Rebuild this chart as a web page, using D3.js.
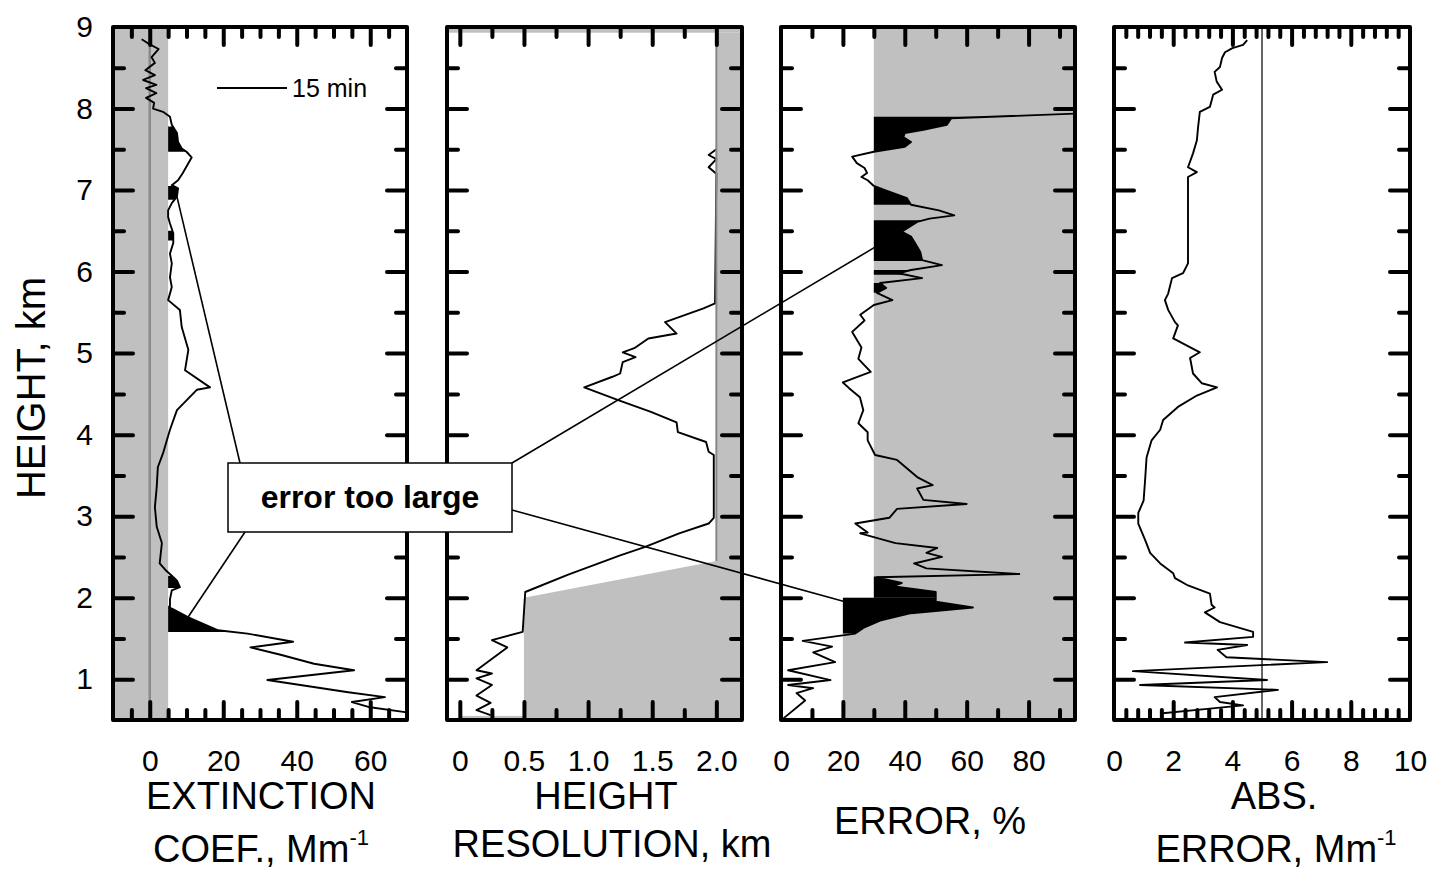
<!DOCTYPE html>
<html>
<head>
<meta charset="utf-8">
<script src="https://cdn.jsdelivr.net/npm/d3@7"></script>
<style>
body { margin: 0; background: #fff; }
text { font-family: "Liberation Sans", Arial, sans-serif; fill: #000; }
</style>
</head>
<body>
<script>
var W = 1432, H = 869;

// height axis (shared by all panels), km
var heightMajor = [1, 2, 3, 4, 5, 6, 7, 8];
var heightMinor = [1.5, 2.5, 3.5, 4.5, 5.5, 6.5, 7.5, 8.5];
var heightLabels = [1, 2, 3, 4, 5, 6, 7, 8, 9];

// panel 1: extinction coefficient, Mm-1
var extH = [8.85, 8.80, 8.73, 8.63, 8.56, 8.47, 8.41, 8.35, 8.29, 8.25, 8.19, 8.13, 8.07, 8.00, 7.96, 7.90,
  7.80, 7.70, 7.59, 7.51, 7.47, 7.40, 7.33, 7.21, 7.12, 7.06, 7.02, 6.92, 6.84, 6.75, 6.67, 6.59, 6.47, 6.35,
  6.22, 6.10, 5.93, 5.81, 5.65, 5.53, 5.32, 5.04, 4.79, 4.58, 4.55, 4.30, 4.06, 3.77, 3.60, 3.36, 3.11, 2.87,
  2.67, 2.42, 2.33, 2.27, 2.21, 2.13, 2.09, 1.98, 1.88, 1.76, 1.60, 1.56, 1.46, 1.39, 1.30, 1.19, 1.11, 0.99,
  0.93, 0.84, 0.78, 0.72, 0.66, 0.60, 0.55];
var extV = [-2.2, -0.5, 2.4, 0.5, 1.4, -1.2, 1.4, -1.8, 1.8, -1.0, 1.8, -1.0, 1.2, 0.9, 3.6, 5.5,
  6, 7.4, 7.7, 8.7, 10, 11.4, 10.5, 9, 7.7, 6, 7.7, 7.4, 6, 5, 5, 5.5, 6.4, 6.4,
  5.5, 6, 5.5, 6, 5, 8.2, 8.7, 10.5, 9.6, 16.4, 12.8, 7.4, 5.5, 3.6, 2.2, 1.9, 1.4, 1.9,
  3.3, 2.7, 4.5, 6, 7.4, 8.2, 6, 5.5, 5.5, 10.5, 18.6, 26.6, 39, 27.4, 35.6, 44.7, 55.6, 32,
  41, 54, 64, 55, 59.5, 69, 75];
var extLimit = 5;
var extBlackLo = [7.47, 6.88, 6.38, 2.12, 1.58];
var extBlackHi = [7.78, 7.05, 6.50, 2.27, 1.90];
var extMajor = [0, 20, 40, 60];
var extMinor = [-5, 5, 10, 15, 25, 30, 35, 45, 50, 55, 65];
var extLabels = ["0", "20", "40", "60"];

// panel 2: height resolution, km
var resH = [7.50, 7.43, 7.38, 7.28, 7.20, 5.61, 5.55, 5.38, 5.24, 5.18, 5.06, 5.01, 4.95, 4.89, 4.75, 4.71,
  4.58, 4.42, 4.28, 4.15, 4.03, 3.91, 3.79, 3.75, 2.98, 2.91, 2.79, 2.62, 2.52, 2.28, 2.07, 1.58, 1.48, 1.39,
  1.11, 1.07, 1.01, 0.93, 0.80, 0.71, 0.62, 0.56];
var resV = [2.0, 1.94, 2.0, 1.94, 2.0, 1.99, 1.9, 1.6, 1.69, 1.47, 1.36, 1.27, 1.37, 1.27, 1.25, 1.19,
  0.97, 1.24, 1.49, 1.69, 1.7, 1.92, 1.94, 1.98, 1.98, 1.94, 1.71, 1.44, 1.25, 0.84, 0.51, 0.49, 0.25, 0.37,
  0.13, 0.25, 0.13, 0.25, 0.13, 0.24, 0.13, 0.24];
var resLimitH = [0.5, 2.0, 2.45, 8.93];
var resLimitV = [0.5, 0.5, 2.0, 2.0];
var resMajor = [0, 0.5, 1.0, 1.5, 2.0];
var resMinor = [0.25, 0.75, 1.25, 1.75];
var resLabels = ["0", "0.5", "1.0", "1.5", "2.0"];

// panel 3: relative error, %
var errH = [7.945, 7.88, 7.80, 7.74, 7.70, 7.65, 7.59, 7.53, 7.47, 7.41, 7.33, 7.27, 7.21, 7.16, 7.12, 7.05,
  7.00, 6.90, 6.82, 6.75, 6.69, 6.65, 6.61, 6.49, 6.43, 6.35, 6.24, 6.14, 6.08, 6.02, 5.98, 5.92, 5.86, 5.80,
  5.74, 5.65, 5.59, 5.47, 5.40, 5.26, 5.07, 4.93, 4.77, 4.64, 4.57, 4.46, 4.30, 4.14, 4.03, 3.93, 3.75, 3.69,
  3.48, 3.38, 3.34, 3.20, 3.15, 3.09, 2.98, 2.91, 2.80, 2.79, 2.67, 2.61, 2.55, 2.50, 2.42, 2.36, 2.29, 2.25,
  2.18, 2.14, 2.07, 1.95, 1.88, 1.81, 1.72, 1.63, 1.56, 1.47, 1.40, 1.33, 1.21, 1.11, 0.99, 0.93, 0.89, 0.83,
  0.74, 0.52];
var errV = [100, 55, 53.6, 46, 40, 39.5, 42, 40, 30, 23, 24.5, 27, 27.8, 26, 28, 30,
  33.6, 40.7, 42, 51, 56, 48, 44, 39, 42, 43.3, 45, 45.6, 52, 42, 38, 45.6, 32, 34,
  31, 36, 30, 25.6, 27, 23, 26, 25, 29, 20, 22, 25.5, 26.6, 25, 28, 28, 30.4, 37.5,
  44, 49, 44, 46, 60, 37.5, 35, 24, 28, 25.6, 37, 50.5, 47, 52, 43, 47, 77, 31,
  39, 36, 50, 50, 62, 42, 32, 26.6, 24, 7, 16.5, 10.4, 17.5, 2.3, 16, 2.3, 10.4, 5,
  7.8, 0.8];
var errLimitH = [0.5, 2.0, 2.0, 9];
var errLimitV = [20, 20, 30, 30];
var errBlackLo = [7.47, 6.82, 6.13, 5.96, 5.74, 2.0, 1.56];
var errBlackHi = [7.90, 7.05, 6.63, 6.02, 5.86, 2.26, 2.0];
var errMajor = [20, 40, 60, 80];
var errMinor = [10, 30, 50, 70, 90];
var errLabels = ["0", "20", "40", "60", "80"];
var errLabelVals = [0, 20, 40, 60, 80];

// panel 4: absolute error, Mm-1
var absH = [8.84, 8.78, 8.74, 8.69, 8.62, 8.51, 8.45, 8.33, 8.23, 8.17, 8.02, 7.96, 7.77, 7.61, 7.45, 7.28,
  7.22, 7.16, 6.91, 6.47, 6.10, 5.98, 5.92, 5.73, 5.65, 5.53, 5.38, 5.34, 5.18, 5.01, 4.94, 4.75, 4.63, 4.58,
  4.48, 4.34, 4.18, 4.06, 3.93, 3.72, 3.44, 3.19, 3.04, 2.91, 2.71, 2.55, 2.42, 2.30, 2.24, 2.15, 2.05, 1.91,
  1.88, 1.82, 1.70, 1.58, 1.52, 1.45, 1.42, 1.36, 1.27, 1.21, 1.10, 0.99, 0.93, 0.87, 0.78, 0.72, 0.68, 0.64,
  0.58];
var absV = [4.5, 4.36, 4.0, 3.75, 3.65, 3.58, 3.4, 3.47, 3.65, 3.35, 3.24, 2.9, 2.84, 2.8, 2.67, 2.5,
  2.8, 2.5, 2.5, 2.5, 2.5, 2.33, 1.96, 1.83, 1.72, 1.83, 2.06, 2.16, 2.0, 2.9, 2.57, 2.67, 2.97, 3.48,
  2.8, 2.16, 1.66, 1.56, 1.27, 1.1, 1.05, 1.0, 0.82, 0.82, 1.05, 1.22, 1.56, 2.0, 2.06, 2.5, 3.24, 3.3,
  3.4, 3.07, 3.58, 4.7, 4.7, 2.4, 4.5, 3.5, 3.8, 7.2, 0.64, 5.17, 0.88, 5.54, 3.4, 3.58, 4.36, 3.24,
  1.56];
var absLimit = 5;
var absMajor = [2, 4, 6, 8];
var absMinor = [0.4, 0.8, 1.2, 1.6, 2.4, 2.8, 3.2, 3.6, 4.4, 4.8, 5.2, 5.6, 6.4, 6.8, 7.2, 7.6, 8.4, 8.8, 9.2, 9.6];
var absLabels = ["0", "2", "4", "6", "8", "10"];
var absLabelVals = [0, 2, 4, 6, 8, 10];

// "error too large" pointers: panel index, value, height
var annoPanel = [0, 0, 2, 2];
var annoV = [7.4, 10.4, 30.4, 20.7];
var annoH = [6.92, 1.76, 6.30, 1.95];

var svg = d3.select("body").append("svg").attr("width", W).attr("height", H);

var y = d3.scaleLinear().domain([0.5, 9]).range([720, 27]);

function interp(hs, vs, h) {
  for (var i = 0; i < hs.length - 1; i++) {
    if (hs[i] >= h && hs[i + 1] <= h) {
      var t = (hs[i] - h) / (hs[i] - hs[i + 1]);
      return vs[i] + t * (vs[i + 1] - vs[i]);
    }
  }
  return vs[vs.length - 1];
}

function limitAt(lh, lv, h) {
  // step threshold: last listed limit whose height is below h
  var v = lv[0];
  for (var i = 0; i < lh.length; i++) if (lh[i] <= h) v = lv[i];
  return v;
}

var line = function(x) {
  return d3.line().x(function(d) { return x(d[1]); }).y(function(d) { return y(d[0]); });
};

function makePanel(id, left, right, domain) {
  var x = d3.scaleLinear().domain(domain).range([left, right]);
  svg.append("clipPath").attr("id", "clip" + id).append("rect")
    .attr("x", left).attr("y", y(9)).attr("width", right - left).attr("height", y(0.5) - y(9));
  var g = svg.append("g");
  var body = g.append("g").attr("clip-path", "url(#clip" + id + ")");
  return { x: x, g: g, body: body, left: left, right: right };
}

function blackFill(p, hs, vs, lo, hi, thr) {
  var area = d3.area()
    .y(function(d) { return y(d[0]); })
    .x0(function(d) { return p.x(d[2]); })
    .x1(function(d) { return p.x(Math.max(d[1], d[2])); });
  lo.forEach(function(a, k) {
    var b = hi[k];
    var t = thr((a + b) / 2);
    var pts = [[b, interp(hs, vs, b), t]];
    hs.forEach(function(h, i) { if (h < b && h > a) pts.push([h, vs[i], t]); });
    pts.push([a, interp(hs, vs, a), t]);
    p.body.append("path").attr("d", area(pts)).attr("fill", "#000");
  });
}

function drawCurve(p, hs, vs) {
  var pts = hs.map(function(h, i) { return [h, vs[i]]; });
  p.body.append("path").attr("d", line(p.x)(pts))
    .attr("fill", "none").attr("stroke", "#000").attr("stroke-width", 1.9).attr("stroke-linejoin", "round");
}

function drawTicks(p, major, minor, labels, labelVals, showY) {
  var g = p.g;
  [[major, 18], [minor, 10]].forEach(function(s) {
    g.append("g").attr("transform", "translate(0," + y(0.5) + ")")
      .call(d3.axisBottom(p.x).tickValues(s[0]).tickSize(-s[1]).tickFormat(""));
    g.append("g").attr("transform", "translate(0," + y(9) + ")")
      .call(d3.axisTop(p.x).tickValues(s[0]).tickSize(-s[1]).tickFormat(""));
  });
  [[heightMajor, 20], [heightMinor, 11]].forEach(function(s) {
    g.append("g").attr("transform", "translate(" + p.left + ",0)")
      .call(d3.axisLeft(y).tickValues(s[0]).tickSize(-s[1]).tickFormat(""));
    g.append("g").attr("transform", "translate(" + p.right + ",0)")
      .call(d3.axisRight(y).tickValues(s[0]).tickSize(-s[1]).tickFormat(""));
  });
  g.selectAll(".domain").remove();
  g.selectAll(".tick line").attr("stroke", "#000").attr("stroke-width", 4).attr("stroke-linecap", "round");

  var lab = g.append("g").attr("transform", "translate(0," + y(0.5) + ")")
    .call(d3.axisBottom(p.x).tickValues(labelVals).tickSize(0).tickPadding(30)
      .tickFormat(function(d, i) { return labels[i]; }));
  lab.select(".domain").remove();
  lab.attr("font-size", null).attr("font-family", null);
  lab.selectAll("text").style("font-size", "30px");

  if (showY) {
    var ly = g.append("g").attr("transform", "translate(" + p.left + ",0)")
      .call(d3.axisLeft(y).tickValues(heightLabels).tickSize(0).tickPadding(20).tickFormat(d3.format("d")));
    ly.select(".domain").remove();
    ly.attr("font-size", null).attr("font-family", null);
    ly.selectAll("text").style("font-size", "30px");
  }

  g.append("rect").attr("x", p.left).attr("y", y(9))
    .attr("width", p.right - p.left).attr("height", y(0.5) - y(9))
    .attr("fill", "none").attr("stroke", "#000").attr("stroke-width", 4).attr("stroke-linejoin", "round");
}

var gray = "#c0c0c0";

// ---------- panel 1: extinction ----------
var p1 = makePanel(1, 113, 407, [-10, 70]);
p1.body.append("rect").attr("x", p1.x(-10)).attr("y", y(9))
  .attr("width", p1.x(extLimit) - p1.x(-10)).attr("height", y(0.5) - y(9)).attr("fill", gray);
p1.body.append("line").attr("x1", p1.x(0)).attr("x2", p1.x(0)).attr("y1", y(9)).attr("y2", y(0.5))
  .attr("stroke", "#8a8a8a").attr("stroke-width", 2.5);
blackFill(p1, extH, extV, extBlackLo, extBlackHi, function() { return extLimit; });
drawCurve(p1, extH, extV);
// 15 min legend
p1.g.append("line").attr("x1", 217).attr("x2", 287).attr("y1", 88).attr("y2", 88)
  .attr("stroke", "#000").attr("stroke-width", 2);
p1.g.append("text").attr("x", 292).attr("y", 97).style("font-size", "25px").text("15 min");

// ---------- panel 2: height resolution ----------
var p2 = makePanel(2, 447, 742, [-0.1, 2.2]);
var resPts = resLimitH.map(function(h, i) { return [h, resLimitV[i]]; });
p2.body.append("path")
  .attr("d", d3.area().y(function(d) { return y(d[0]); })
    .x0(function(d) { return p2.x(d[1]); }).x1(p2.x(2.2))(resPts))
  .attr("fill", gray);
p2.body.append("rect").attr("x", p2.x(-0.1)).attr("y", y(9)).attr("width", p2.x(2.2) - p2.x(-0.1))
  .attr("height", y(8.93) - y(9)).attr("fill", gray);
p2.body.append("rect").attr("x", p2.x(0)).attr("y", y(0.55)).attr("width", p2.x(0.5) - p2.x(0))
  .attr("height", y(0.5) - y(0.55)).attr("fill", gray);
drawCurve(p2, resH, resV);
p2.body.append("line").attr("x1", p2.x(2.0)).attr("x2", p2.x(2.0)).attr("y1", y(9)).attr("y2", y(2.45))
  .attr("stroke", "#888").attr("stroke-width", 2);

// ---------- panel 3: relative error ----------
var p3 = makePanel(3, 781, 1075, [0, 95]);
var errPts = errLimitH.map(function(h, i) { return [h, errLimitV[i]]; });
p3.body.append("path")
  .attr("d", d3.area().y(function(d) { return y(d[0]); })
    .x0(function(d) { return p3.x(d[1]); }).x1(p3.x(95))(errPts))
  .attr("fill", gray);
blackFill(p3, errH, errV, errBlackLo, errBlackHi, function(h) { return limitAt(errLimitH, errLimitV, h); });
drawCurve(p3, errH, errV);

// ---------- panel 4: absolute error ----------
var p4 = makePanel(4, 1114, 1410, [0, 10]);
p4.body.append("line").attr("x1", p4.x(absLimit)).attr("x2", p4.x(absLimit)).attr("y1", y(9)).attr("y2", y(0.5))
  .attr("stroke", "#333").attr("stroke-width", 1.5);
drawCurve(p4, absH, absV);

drawTicks(p1, extMajor, extMinor, extLabels, extMajor, true);
drawTicks(p2, resMajor, resMinor, resLabels, resMajor, false);
drawTicks(p3, errMajor, errMinor, errLabels, errLabelVals, false);
drawTicks(p4, absMajor, absMinor, absLabels, absLabelVals, false);

// ---------- annotation ----------
var panels = [p1, p2, p3, p4];
var box = { x: 228, y: 463, w: 284, h: 69 };
var annoFrom = [[240, box.y], [245, box.y + box.h], [box.x + box.w, box.y], [box.x + box.w, 510]];
annoPanel.forEach(function(pi, i) {
  var p = panels[pi];
  svg.append("line").attr("x1", annoFrom[i][0]).attr("y1", annoFrom[i][1])
    .attr("x2", p.x(annoV[i])).attr("y2", y(annoH[i]))
    .attr("stroke", "#000").attr("stroke-width", 1.6);
});
svg.append("rect").attr("x", box.x).attr("y", box.y).attr("width", box.w).attr("height", box.h)
  .attr("fill", "#fff").attr("stroke", "#000").attr("stroke-width", 1.5);
svg.append("text").attr("x", box.x + box.w / 2).attr("y", box.y + 45).attr("text-anchor", "middle")
  .style("font-size", "32px").style("font-weight", "bold").text("error too large");

// ---------- axis titles ----------
function title(x, yy, txt, sup) {
  var t = svg.append("text").attr("x", x).attr("y", yy).attr("text-anchor", "middle").style("font-size", "38px");
  t.append("tspan").text(txt);
  if (sup) t.append("tspan").attr("dy", -17).style("font-size", "22px").text(sup);
  return t;
}
title(261, 809, "EXTINCTION");
title(261, 862, "COEF., Mm", "-1");
title(606, 809, "HEIGHT");
title(612, 857, "RESOLUTION, km");
title(930, 834, "ERROR, %");
title(1274, 809, "ABS.");
title(1276, 862, "ERROR, Mm", "-1");

svg.append("text").attr("transform", "translate(45,388) rotate(-90)").attr("text-anchor", "middle")
  .style("font-size", "40px").text("HEIGHT, km");
</script>
</body>
</html>
